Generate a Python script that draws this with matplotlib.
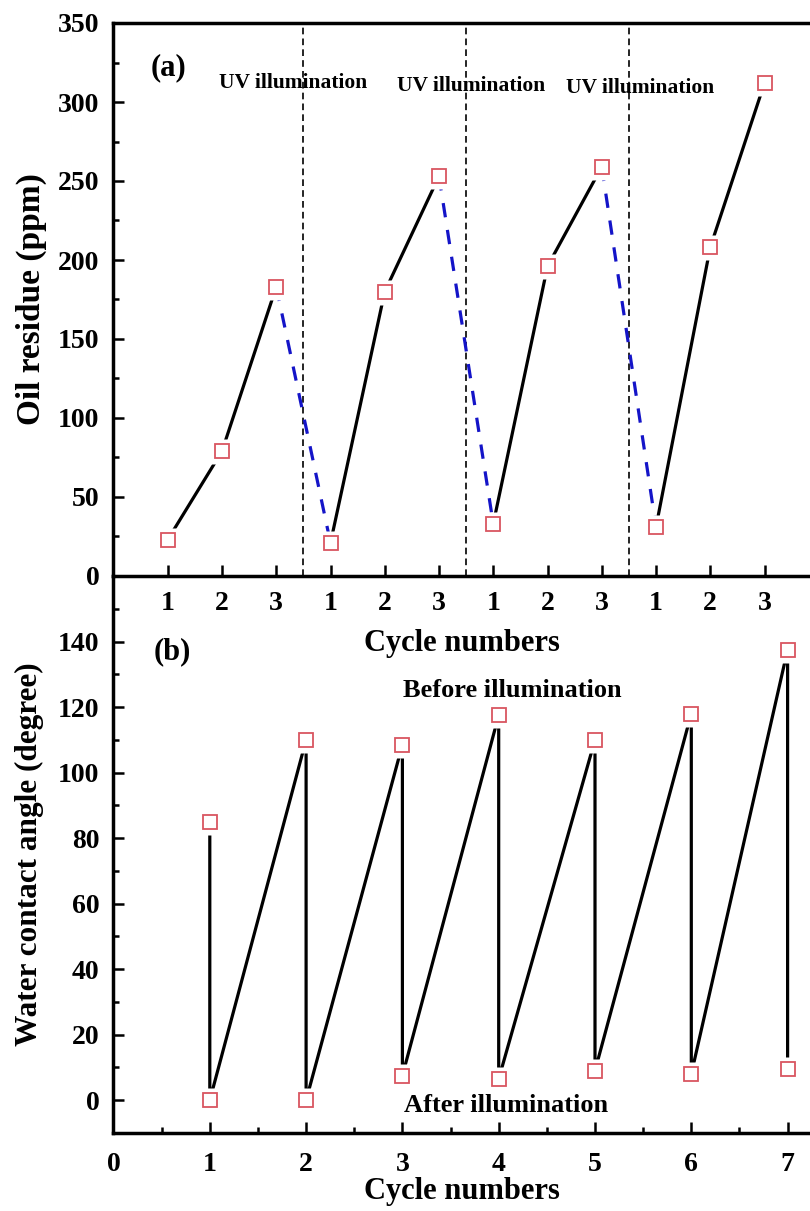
import numpy as np
import matplotlib.pyplot as plt
from matplotlib.ticker import MultipleLocator

# (a) oil residue, three cycles per group, four groups
oil_x = [1, 2, 3, 4, 5, 6, 7, 8, 9, 10, 11, 12]
oil_ppm = [23, 79, 183, 21, 180, 253, 33, 196, 259, 31, 208, 312]
oil_tick_labels = ["1", "2", "3"] * 4
uv_lines_x = [3.5, 6.5, 9.5]

# (b) water contact angle before / after illumination
wca_cycle = [1, 2, 3, 4, 5, 6, 7]
wca_before = [85, 110, 108.5, 117.5, 110, 118, 137.5]
wca_after = [0, 0, 7.5, 6.5, 9, 8, 9.5]

plt.rcParams['font.family'] = ['Liberation Serif', 'DejaVu Serif']
plt.rcParams['font.weight'] = 'bold'

RED = '#d95560'
BLUE = '#1414c8'
LW = 2.3

fig = plt.figure(figsize=(8.1, 12.11), dpi=100)
W, H = 810.0, 1211.0
left = 113.5 / W
ax1 = fig.add_axes([left, 1 - 576 / H, 1 - left, (576 - 23) / H])
ax2 = fig.add_axes([left, 1 - 1133 / H, 1 - left, (1133 - 576) / H])
ax2.patch.set_visible(False)


def style(ax):
    for s in ['left', 'bottom', 'top']:
        ax.spines[s].set_linewidth(2.5)
    ax.spines['right'].set_visible(False)
    ax.tick_params(which='both', direction='in', width=1.8, top=False, right=False)
    ax.tick_params(which='major', length=8)
    ax.tick_params(which='minor', length=4.5)
    ax.tick_params(axis='y', labelsize=20, pad=10)


def halo_markers(ax, x, y):
    # white square under the hollow marker so lines stop short of it
    ax.plot(x, y, ls='none', marker='s', ms=18, mfc='white', mec='none', zorder=4)
    ax.plot(x, y, ls='none', marker='s', ms=10.5, mfc='white', mec=RED, mew=1.3, zorder=5)


# ---- panel (a) ----
style(ax1)
for g in range(4):
    seg = slice(3 * g, 3 * g + 3)
    ax1.plot(oil_x[seg], oil_ppm[seg], color='black', lw=LW, zorder=3)
    if g < 3:
        ax1.plot(oil_x[3 * g + 2:3 * g + 4], oil_ppm[3 * g + 2:3 * g + 4],
                 color=BLUE, lw=LW, dashes=(4.5, 4), zorder=3)
halo_markers(ax1, oil_x, oil_ppm)
for xv in uv_lines_x:
    ax1.axvline(xv, color='black', lw=1.2, dashes=(4, 2.5), zorder=2)

ax1.set_xlim(0, 696.5 / 54.25)
ax1.set_ylim(0, 350)
ax1.set_xticks(oil_x)
ax1.set_xticklabels(oil_tick_labels)
ax1.yaxis.set_major_locator(MultipleLocator(50))
ax1.yaxis.set_minor_locator(MultipleLocator(25))
ax1.tick_params(axis='x', labelsize=20, pad=11)
ax1.set_xlabel('Cycle numbers', fontsize=22, fontweight='bold', labelpad=9)
ax1.set_ylabel('Oil residue (ppm)', fontsize=24, fontweight='bold', labelpad=8)

ax1.text(1.01, 322, '(a)', fontsize=22, fontweight='bold', ha='center', va='center')
uv_text_pos = [(3.32, 311.8), (6.6, 310), (9.71, 308.7)]
for tx, ty in uv_text_pos:
    ax1.text(tx, ty, 'UV illumination', fontsize=15.5, fontweight='bold',
             ha='center', va='center', zorder=6)

# ---- panel (b) ----
style(ax2)
ax2.spines['top'].set_visible(False)
path_x, path_y = [], []
for c, b, a in zip(wca_cycle, wca_before, wca_after):
    path_x += [c, c]
    path_y += [b, a]
ax2.plot(path_x, path_y, color='black', lw=LW, zorder=3)
halo_markers(ax2, wca_cycle, wca_before)
halo_markers(ax2, wca_cycle, wca_after)

ax2.set_xlim(0, 696.5 / 96.3)
ax2.set_ylim(-10, 160)
ax2.xaxis.set_major_locator(MultipleLocator(1))
ax2.xaxis.set_minor_locator(MultipleLocator(0.5))
ax2.yaxis.set_major_locator(MultipleLocator(20))
ax2.yaxis.set_minor_locator(MultipleLocator(10))
ax2.set_yticks(np.arange(0, 141, 20))
ax2.tick_params(axis='x', labelsize=20, pad=14)
ax2.set_xlabel('Cycle numbers', fontsize=22, fontweight='bold', labelpad=0)
ax2.set_ylabel('Water contact angle (degree)', fontsize=22.5, fontweight='bold', labelpad=10)

ax2.text(0.61, 137, '(b)', fontsize=22, fontweight='bold', ha='center', va='center')
ax2.text(4.14, 125.2, 'Before illumination', fontsize=19, fontweight='bold',
         ha='center', va='center', zorder=6)
ax2.text(4.08, -1.7, 'After illumination', fontsize=19, fontweight='bold',
         ha='center', va='center', zorder=6)

fig.savefig('out.png', dpi=100)
